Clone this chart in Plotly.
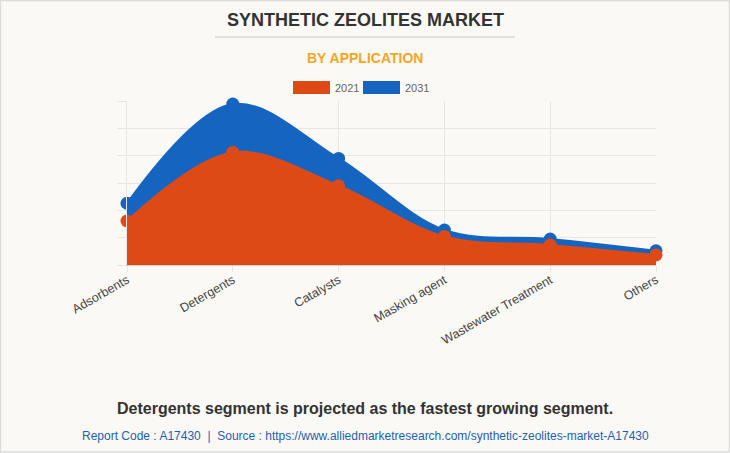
import plotly.graph_objects as go

categories = ["Adsorbents", "Detergents", "Catalysts", "Masking agent", "Wastewater Treatment", "Others"]
values_2021 = [161, 412, 290, 104, 73, 37]
values_2031 = [226, 589, 390, 128, 95, 52]

ORANGE = "#DE4A16"
BLUE = "#1565C0"
BG = "#FAF9F5"

fig = go.Figure()
fig.add_trace(go.Scatter(
    x=categories, y=values_2031, name="2031", mode="lines+markers",
    line=dict(color=BLUE, width=2, shape="spline", smoothing=1.0),
    marker=dict(color=BLUE, size=13), fill="tozeroy", fillcolor=BLUE,
    cliponaxis=False, showlegend=False, hoverinfo="x+y+name"))
fig.add_trace(go.Scatter(
    x=categories, y=values_2021, name="2021", mode="lines+markers",
    line=dict(color=ORANGE, width=2, shape="spline", smoothing=1.0),
    marker=dict(color=ORANGE, size=13), fill="tozeroy", fillcolor=ORANGE,
    cliponaxis=False, showlegend=False, hoverinfo="x+y+name"))

W, H = 730, 453
L, R, T, B = 127, 656, 101, 265
pw, ph = R - L, B - T

def px(x):
    return (x - L) / pw

def py(y):
    return (B - y) / ph

shapes = [
    dict(type="line", xref="paper", yref="paper", x0=px(215), x1=px(515), y0=py(37), y1=py(37),
         line=dict(color="#C8C8C8", width=1)),
    dict(type="rect", xref="paper", yref="paper", x0=px(293), x1=px(330), y0=py(94), y1=py(81),
         fillcolor=ORANGE, line=dict(width=0)),
    dict(type="rect", xref="paper", yref="paper", x0=px(363), x1=px(400), y0=py(94), y1=py(81),
         fillcolor=BLUE, line=dict(width=0)),
    dict(type="rect", xref="paper", yref="paper", x0=px(0.5), x1=px(729.5), y0=py(0.5), y1=py(452),
         fillcolor="rgba(0,0,0,0)", line=dict(color="#DCDCDC", width=1.5)),
]

def ann(text, x, y, size, color, xanchor="center"):
    return dict(text=text, x=px(x), y=py(y), xref="paper", yref="paper", xanchor=xanchor,
                yanchor="middle", showarrow=False,
                font=dict(family="Liberation Sans, Arial", size=size, color=color))

annotations = [
    ann("<b>SYNTHETIC ZEOLITES MARKET</b>", 365, 20, 18, "#333333"),
    ann("<b>BY APPLICATION</b>", 365, 58, 14, "#F5A623"),
    ann("2021", 333, 87.5, 11, "#666666", "left"),
    ann("2031", 403, 87.5, 11, "#666666", "left"),
    ann("<b>Detergents segment is projected as the fastest growing segment.</b>", 365, 408, 16, "#333333"),
    ann("Report Code : A17430  |  Source : https://www.alliedmarketresearch.com/synthetic-zeolites-market-A17430",
        365, 436, 12, "#1F5FAE"),
]

fig.update_layout(
    width=W, height=H,
    margin=dict(l=L, r=W - R, t=T, b=H - B, pad=0),
    paper_bgcolor=BG, plot_bgcolor=BG,
    showlegend=False,
    shapes=shapes, annotations=annotations,
    xaxis=dict(type="category", range=[0, 5], showgrid=True, gridcolor="#E6E6E6", gridwidth=1,
               ticks="outside", ticklen=6, tickcolor="#E6E6E6", tickangle=-30,
               ticklabelstandoff=-4,
               tickfont=dict(family="Liberation Sans, Arial", size=12.5, color="#444444"),
               showline=True, linecolor="#CCCCCC", linewidth=1, zeroline=False),
    yaxis=dict(range=[0, 600], dtick=100, showgrid=True, gridcolor="#E6E6E6", gridwidth=1,
               showticklabels=False, ticks="outside", ticklen=9, tickcolor="#E6E6E6",
               showline=True, linecolor="#E6E6E6", linewidth=1, zeroline=False),
)

fig.write_html("out.html", config={"displayModeBar": False},
               post_script="document.body.style.margin='0';")
